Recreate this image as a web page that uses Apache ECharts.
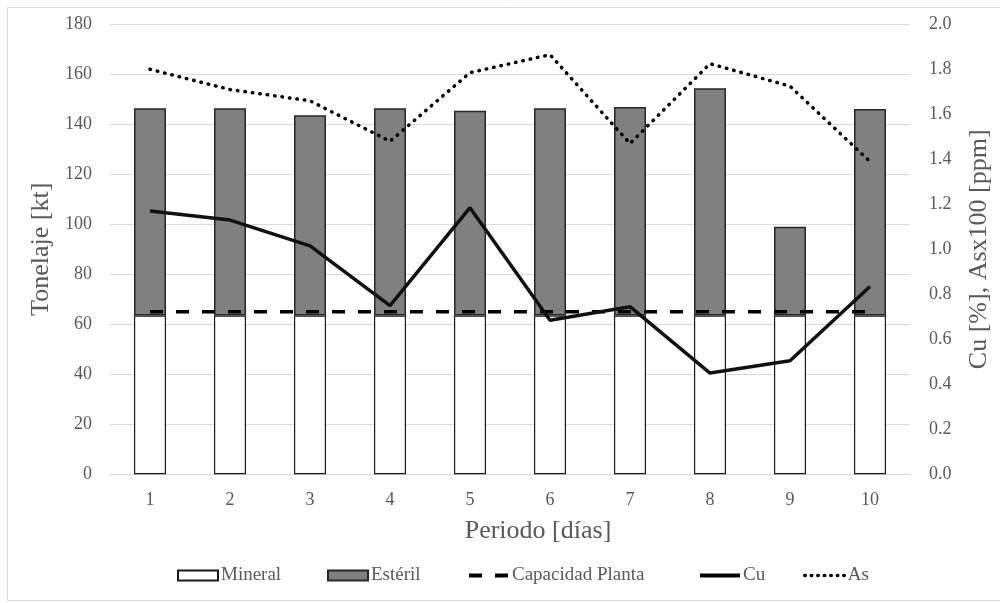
<!DOCTYPE html>
<html>
<head>
<meta charset="utf-8">
<script src="https://cdn.jsdelivr.net/npm/echarts@6/dist/echarts.min.js"></script>
<style>
html,body{margin:0;padding:0;background:#fff;}
#chart{width:1000px;height:603px;}
</style>
</head>
<body>
<div id="chart"></div>
<script>
const categories = ['1','2','3','4','5','6','7','8','9','10'];
const mineral = [63.5, 63.5, 63.5, 63.5, 63.5, 63.5, 63.5, 63.5, 63.5, 63.5];
const esteril = [82.9, 82.9, 80.1, 82.9, 81.9, 82.9, 83.4, 90.9, 35.5, 82.6];
const capacidadPlanta = [65, 65, 65, 65, 65, 65, 65, 65, 65, 65];
const cu = [1.17, 1.13, 1.015, 0.75, 1.185, 0.685, 0.745, 0.45, 0.505, 0.835];
const as = [1.80, 1.71, 1.66, 1.48, 1.785, 1.865, 1.47, 1.825, 1.725, 1.39];
const leftTicks = {min: 0, max: 180, interval: 20};
const rightTicks = {min: 0, max: 2, interval: 0.2};

const FONT = '"Liberation Serif", serif';
const TXT = '#595959';

const chart = echarts.init(document.getElementById('chart'), null, {renderer: 'canvas'});

function leg(name, left, lineStyle) {
  const l = {
    data: [lineStyle ? name : {name: name, icon: 'rect'}], left: left, top: 561, itemWidth: 40, itemHeight: 10, itemGap: 0,
    textStyle: {fontFamily: FONT, fontSize: 19, color: TXT, padding: [0, 0, 0, -2]},
    selectedMode: false
  };
  if (lineStyle) {
    l.itemStyle = {color: 'rgba(0,0,0,0)', borderColor: 'rgba(0,0,0,0)', borderWidth: 0};
    l.lineStyle = lineStyle;
  }
  return l;
}

chart.setOption({
  animation: false,
  backgroundColor: '#fff',
  graphic: [{
    type: 'rect', left: 5, top: 5, shape: {width: 1000, height: 593},
    style: {fill: 'none', stroke: '#d9d9d9', lineWidth: 1}, silent: true, z: -1
  }],
  grid: {left: 110, right: 87, top: 24.3, bottom: 128.7, containLabel: false},
  legend: [
    leg('Mineral', 172, null),
    leg('Estéril', 322, null),
    leg('Capacidad Planta', 462, {color: '#000', width: 4, type: [13, 13]}),
    leg('Cu', 693, {color: '#000', width: 4, type: 'solid'}),
    leg('As', 798, {color: '#000', width: 3.5, type: [0.5, 6], cap: 'round'})
  ],
  xAxis: {
    type: 'category', data: categories, boundaryGap: true,
    axisLine: {lineStyle: {color: '#d9d9d9', width: 1}},
    axisTick: {show: false},
    axisLabel: {fontFamily: FONT, fontSize: 18, color: TXT, margin: 17},
    name: 'Periodo [días]', nameLocation: 'middle', nameGap: 44,
    nameTextStyle: {fontFamily: FONT, fontSize: 26, color: TXT, padding: [0, 0, 0, 56]}
  },
  yAxis: [{
    type: 'value', min: leftTicks.min, max: leftTicks.max, interval: leftTicks.interval,
    axisLine: {show: false}, axisTick: {show: false},
    axisLabel: {fontFamily: FONT, fontSize: 18, color: TXT, margin: 18},
    splitLine: {lineStyle: {color: '#d9d9d9', width: 1}},
    name: 'Tonelaje [kt]', nameLocation: 'middle', nameGap: 48, nameRotate: 90,
    nameTextStyle: {fontFamily: FONT, fontSize: 26, color: TXT}
  }, {
    type: 'value', min: rightTicks.min, max: rightTicks.max, interval: rightTicks.interval,
    axisLine: {show: false}, axisTick: {show: false},
    axisLabel: {fontFamily: FONT, fontSize: 18, color: TXT, margin: 19, formatter: v => v.toFixed(1)},
    splitLine: {show: false},
    name: 'Cu [%], Asx100 [ppm]', nameLocation: 'middle', nameGap: 56, nameRotate: 90,
    nameTextStyle: {fontFamily: FONT, fontSize: 26, color: TXT}
  }],
  series: [{
    name: 'Mineral', type: 'bar', stack: 't', data: mineral, barWidth: 32,
    itemStyle: {color: '#ffffff', borderColor: '#1a1a1a', borderWidth: 1.2}
  }, {
    name: 'Estéril', type: 'bar', stack: 't', data: esteril, barWidth: 32,
    itemStyle: {color: '#808080', borderColor: '#262626', borderWidth: 1.5}
  }, {
    name: 'Capacidad Planta', type: 'line', data: capacidadPlanta, symbol: 'none',
    lineStyle: {color: '#000', width: 3.5, type: [13, 13]}, itemStyle: {color: '#000'}, z: 5
  }, {
    name: 'Cu', type: 'line', yAxisIndex: 1, data: cu, symbol: 'none',
    lineStyle: {color: '#111', width: 3.5}, itemStyle: {color: '#111'}, z: 6
  }, {
    name: 'As', type: 'line', yAxisIndex: 1, data: as, symbol: 'none',
    lineStyle: {color: '#000', width: 3.5, type: [0.5, 7], cap: 'round'}, itemStyle: {color: '#000'}, z: 6
  }]
});
</script>
</body>
</html>
